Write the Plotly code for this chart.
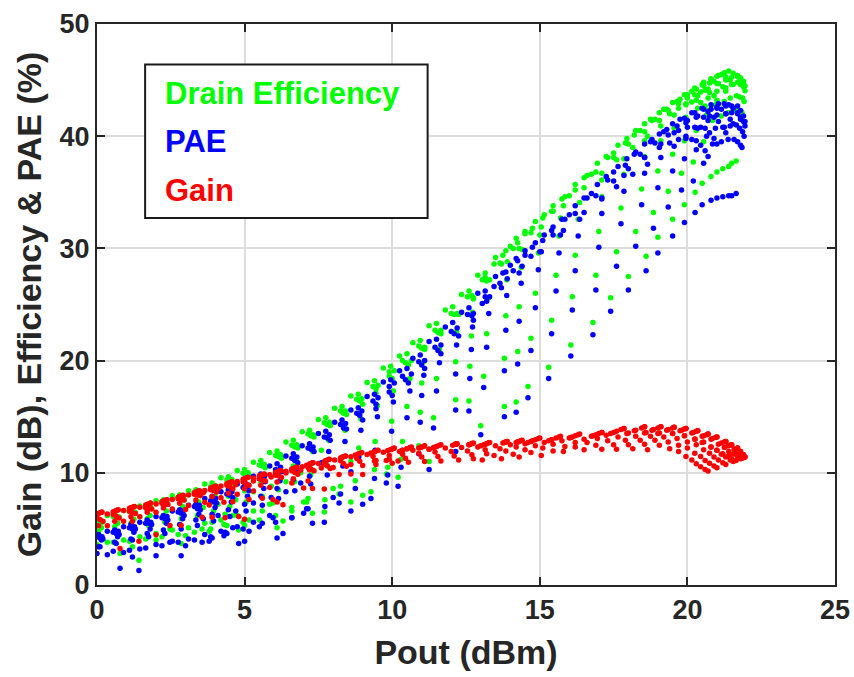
import plotly.graph_objects as go

# Load-pull style sweep: each inner list is one input-power step,
# points ordered along the swept bias/load parameter.
pout_arcs = [
    [20.7, 21.0, 21.3, 21.55, 21.8, 21.95, 21.95, 21.92, 21.85, 21.65],
    [20.6, 20.9, 21.2, 21.45, 21.7, 21.9, 21.9, 21.87, 21.8, 21.5],
    [20.45, 20.75, 21.05, 21.3, 21.55, 21.8, 21.8, 21.77, 21.7, 21.4],
    [20.3, 20.6, 20.9, 21.15, 21.4, 21.7, 21.7, 21.66, 21.58, 21.2],
    [20.15, 20.45, 20.75, 21.0, 21.25, 21.5, 21.5, 21.45, 21.38, 21.0],
    [19.95, 20.25, 20.55, 20.8, 21.05, 21.3, 21.3, 21.25, 21.15, 20.8],
    [19.7, 20.0, 20.3, 20.55, 20.8, 21.0, 21.0, 20.95, 20.85, 20.5],
    [19.4, 19.7, 20.0, 20.25, 20.5, 20.7, 20.7, 20.65, 20.55, 20.26],
    [18.65, 19.05, 19.35, 19.65, 19.9, 20.15, 20.35, 20.35, 20.3, 20.2, 19.9],
    [18.15, 18.55, 18.9, 19.2, 19.5, 19.75, 19.95, 19.95, 19.9, 19.8, 19.5],
    [17.6, 18.0, 18.4, 18.75, 19.05, 19.3, 19.55, 19.55, 19.5, 19.35, 19.0],
    [17.1, 17.5, 17.9, 18.25, 18.55, 18.8, 19.1, 19.1, 19.0, 18.85, 18.6],
    [16.5, 16.9, 17.3, 17.65, 17.95, 18.2, 18.55, 18.55, 18.45, 18.25, 18.0],
    [15.8, 16.2, 16.6, 16.95, 17.25, 17.5, 17.85, 17.85, 17.75, 17.6, 17.4],
    [15.05, 15.45, 15.85, 16.2, 16.5, 16.75, 17.1, 17.1, 17.0, 16.9, 16.8],
    [14.3, 14.7, 15.1, 15.45, 15.75, 16.0, 16.35, 16.3, 16.2, 16.1, 16.05],
    [13.7, 14.1, 14.5, 14.85, 15.15, 15.4, 15.7, 15.65, 15.55, 15.4, 15.3],
    [13.05, 13.45, 13.85, 14.2, 14.5, 14.75, 15.0, 14.95, 14.85, 14.7, 14.6],
    [12.75, 13.2, 13.65, 14.0, 14.25, 14.4, 14.37, 14.3, 14.25, 14.2],
    [12.25, 12.7, 13.15, 13.5, 13.75, 13.9, 13.88, 13.85, 13.8, 13.8],
    [11.65, 12.1, 12.55, 12.9, 13.15, 13.3, 13.27, 13.2, 13.1, 13.0],
    [11.1, 11.55, 12.0, 12.35, 12.6, 12.75, 12.72, 12.68, 12.63, 12.6],
    [10.55, 11.0, 11.45, 11.8, 12.05, 12.2, 12.18, 12.15, 12.15, 12.15],
    [10.0, 10.45, 10.9, 11.25, 11.5, 11.65, 11.6, 11.5, 11.4, 11.25, 10.2, 9.0, 7.7, 6.3, 5.0],
    [9.45, 9.9, 10.35, 10.7, 10.95, 11.1, 11.07, 11.0, 10.95, 10.9, 9.8, 8.6, 7.3, 6.1, 4.8],
    [9.0, 9.45, 9.9, 10.25, 10.5, 10.65, 10.6, 10.5, 10.35, 10.3, 9.4, 8.2, 7.0, 5.96, 4.34],
    [8.45, 8.9, 9.35, 9.7, 9.95, 10.07, 10.04, 9.98, 9.85, 8.6, 7.15, 5.6, 3.9],
    [7.9, 8.35, 8.8, 9.15, 9.4, 9.52, 9.5, 9.42, 9.28, 8.0, 6.6, 5.15, 3.56, 2.85, 2.0, 1.42, 0.78],
    [7.35, 7.8, 8.25, 8.6, 8.85, 8.97, 8.94, 8.87, 8.75, 7.6, 6.65, 5.85, 4.6, 2.47],
    [6.8, 7.25, 7.7, 8.05, 8.3, 8.42, 8.4, 8.33, 8.25, 7.2, 6.1, 5.3, 4.3],
    [6.25, 6.7, 7.15, 7.5, 7.75, 7.87, 7.85, 7.8, 7.72, 6.9, 5.55, 4.75, 3.8],
    [5.7, 6.15, 6.6, 6.95, 7.2, 7.32, 7.3, 7.24, 7.1, 6.4, 5.0, 4.2],
    [5.15, 5.6, 6.05, 6.4, 6.65, 6.77, 6.75, 6.7, 6.6, 5.9, 4.45, 3.65, 3.0],
    [4.6, 5.05, 5.5, 5.85, 6.1, 6.22, 6.2, 6.15, 6.05, 5.3, 3.9, 3.1],
    [4.05, 4.5, 4.95, 5.3, 5.55, 5.67, 5.65, 5.6, 5.5, 4.7, 3.35, 2.55],
    [3.5, 3.95, 4.4, 4.75, 5.0, 5.12, 5.1, 5.05, 4.95, 4.1, 2.8, 2.0, 1.2],
    [2.95, 3.4, 3.85, 4.2, 4.45, 4.57, 4.55, 4.5, 4.4, 3.6, 2.25, 1.45],
    [2.4, 2.85, 3.3, 3.65, 3.9, 4.02, 4.0, 3.95, 3.85, 1.7, 0.9],
    [1.85, 2.3, 2.75, 3.1, 3.35, 3.47, 3.45, 3.4, 3.3, 1.15, 0.35],
    [1.3, 1.75, 2.2, 2.55, 2.8, 2.92, 2.9, 2.85, 2.75, 0.6, -0.2],
    [0.75, 1.2, 1.65, 2.0, 2.25, 2.37, 2.35, 2.3, 2.2, 0.05, -0.75],
    [0.2, 0.65, 1.1, 1.45, 1.7, 1.82, 1.8, 1.75, 1.65],
    [-0.35, 0.1, 0.55, 0.9, 1.15, 1.27, 1.25, 1.2, 1.1],
    [-0.9, -0.45, 0.0, 0.35, 0.6, 0.72, 0.7, 0.65, 0.55],
    [-1.45, -1.0, -0.55, -0.2, 0.05, 0.17, 0.15, 0.1, 0.0],
]

drain_eff_arcs = [
    [42.3, 43.2, 44.0, 44.6, 44.9, 44.5, 44.05, 43.1, 42.1, 37.8],
    [42.7, 43.6, 44.4, 45.0, 45.3, 44.9, 44.4, 43.4, 42.2, 37.6],
    [43.0, 43.9, 44.7, 45.3, 45.6, 45.2, 44.6, 43.5, 42.3, 37.3],
    [43.2, 44.1, 44.9, 45.5, 45.8, 45.4, 44.8, 43.6, 42.3, 37.1],
    [43.05, 43.95, 44.75, 45.35, 45.65, 45.25, 44.6, 43.4, 42.1, 36.8],
    [42.8, 43.7, 44.5, 45.1, 45.4, 45.0, 44.3, 43.1, 41.8, 36.4],
    [42.5, 43.4, 44.2, 44.8, 45.1, 44.7, 44.0, 42.8, 41.4, 35.8],
    [42.0, 42.9, 43.7, 44.3, 44.6, 44.2, 43.4, 41.9, 39.5, 35.0],
    [40.0, 41.4, 42.3, 43.1, 43.7, 44.0, 43.6, 42.5, 40.5, 37.7, 33.9],
    [39.0, 40.4, 41.5, 42.4, 43.0, 43.3, 42.9, 41.7, 39.6, 36.7, 32.6],
    [37.9, 39.3, 40.5, 41.5, 42.1, 42.4, 41.9, 40.7, 38.4, 35.1, 31.0],
    [36.7, 38.1, 39.4, 40.5, 41.1, 41.4, 40.9, 39.6, 36.9, 33.2, 29.3],
    [35.4, 36.8, 38.1, 39.2, 39.8, 40.1, 39.6, 38.2, 35.3, 31.5, 27.5],
    [33.8, 35.2, 36.5, 37.6, 38.2, 38.5, 38.0, 36.6, 33.6, 29.7, 25.6],
    [31.9, 33.3, 34.6, 35.7, 36.3, 36.6, 36.1, 34.6, 31.5, 27.6, 23.4],
    [30.0, 31.4, 32.7, 33.8, 34.4, 34.7, 34.1, 32.6, 29.4, 25.7, 21.4],
    [28.6, 30.0, 31.3, 32.4, 33.0, 33.3, 32.7, 31.1, 27.6, 23.6, 19.4],
    [27.2, 28.6, 29.8, 30.9, 31.5, 31.8, 31.2, 29.6, 26.0, 22.0, 17.7],
    [25.5, 27.1, 28.7, 30.2, 30.5, 29.9, 28.3, 24.8, 20.8, 16.3],
    [24.1, 25.8, 27.4, 29.2, 29.4, 28.8, 27.2, 24.0, 20.2, 15.9],
    [22.4, 24.1, 25.7, 27.6, 27.8, 27.2, 25.6, 22.4, 18.6, 14.2],
    [21.0, 22.5, 24.2, 25.9, 26.2, 25.6, 24.3, 22.2, 19.5, 16.4],
    [19.6, 21.1, 22.7, 24.5, 24.8, 24.2, 22.6, 19.9, 16.5, 12.6],
    [18.4, 19.8, 21.3, 23.1, 23.3, 22.7, 21.0, 18.4, 14.9, 11.0, 9.6, 8.0, 6.5, 5.7, 5.3],
    [17.1, 18.6, 20.0, 21.6, 21.8, 21.2, 19.9, 18.0, 15.4, 12.4, 9.9, 7.4, 6.4, 5.1, 4.9],
    [16.1, 17.5, 19.0, 20.4, 20.6, 20.0, 18.4, 15.9, 12.8, 11.2, 10.3, 8.1, 7.4, 7.3, 6.3],
    [15.2, 16.4, 17.7, 19.35, 19.5, 19.1, 17.3, 14.6, 10.5, 11.0, 7.7, 6.6, 5.6],
    [14.2, 15.3, 16.55, 18.05, 18.2, 17.8, 16.0, 12.8, 8.3, 8.6, 6.9, 5.8, 5.0, 3.7, 4.0, 2.2, 2.8],
    [13.2, 14.3, 15.5, 16.85, 17.0, 16.6, 14.8, 12.2, 9.3, 12.0, 10.6, 7.2, 6.2, 5.0],
    [12.2, 13.3, 14.45, 15.75, 15.9, 15.5, 13.8, 11.4, 8.8, 10.7, 9.8, 6.6, 5.4],
    [11.3, 12.3, 13.45, 14.75, 14.9, 14.5, 12.9, 10.6, 7.6, 10.0, 9.1, 6.2, 4.8],
    [10.45, 11.45, 12.45, 13.65, 13.8, 13.4, 11.9, 9.8, 7.4, 9.2, 8.4, 5.8],
    [9.7, 10.6, 11.55, 12.75, 12.9, 12.5, 11.1, 9.2, 6.6, 8.8, 7.9, 5.5, 4.4],
    [9.05, 9.85, 10.7, 11.8, 11.95, 11.6, 10.3, 8.5, 6.2, 8.3, 7.5, 5.1],
    [8.55, 9.25, 9.95, 10.95, 11.1, 10.75, 9.6, 7.9, 5.8, 7.6, 7.0, 4.9],
    [7.95, 8.7, 9.35, 10.2, 10.3, 10.0, 8.9, 7.4, 5.6, 7.2, 6.6, 4.6, 3.4],
    [7.55, 8.1, 8.75, 9.55, 9.65, 9.4, 8.4, 7.0, 5.3, 6.9, 6.2, 4.3],
    [7.2, 7.7, 8.25, 9.0, 9.1, 8.85, 7.9, 6.6, 5.0, 5.9, 4.0],
    [6.8, 7.3, 7.8, 8.4, 8.5, 8.25, 7.4, 6.2, 4.7, 5.5, 3.8],
    [6.45, 6.9, 7.4, 7.95, 8.05, 7.8, 7.0, 5.9, 4.5, 5.2, 3.5],
    [6.05, 6.5, 6.95, 7.5, 7.6, 7.35, 6.6, 5.6, 4.3, 4.8, 3.3],
    [5.65, 6.1, 6.55, 7.05, 7.15, 6.9, 6.2, 5.3, 4.1],
    [5.3, 5.7, 6.1, 6.65, 6.75, 6.5, 5.85, 5.0, 3.9],
    [4.9, 5.3, 5.7, 6.2, 6.3, 6.05, 5.5, 4.7, 3.8],
    [4.5, 4.9, 5.3, 5.75, 5.85, 5.6, 5.1, 4.4, 3.6],
]

pae_arcs = [
    [38.2, 39.3, 40.3, 41.1, 41.5, 41.3, 40.9, 40.0, 39.0, 34.9],
    [38.7, 39.8, 40.8, 41.5, 42.0, 41.8, 41.3, 40.4, 39.2, 34.7],
    [39.2, 40.3, 41.3, 42.0, 42.5, 42.3, 41.7, 40.7, 39.5, 34.7],
    [39.6, 40.7, 41.7, 42.4, 42.8, 42.7, 42.1, 41.0, 39.7, 34.6],
    [39.7, 40.8, 41.8, 42.5, 42.9, 42.7, 42.1, 40.9, 39.7, 34.5],
    [39.8, 40.8, 41.7, 42.4, 42.9, 42.7, 42.0, 40.8, 39.5, 34.3],
    [39.7, 40.8, 41.7, 42.4, 42.8, 42.6, 41.9, 40.7, 39.3, 33.9],
    [39.4, 40.5, 41.4, 42.1, 42.5, 42.2, 41.4, 40.0, 37.6, 33.2],
    [37.5, 39.0, 40.1, 40.9, 41.6, 42.1, 41.8, 40.7, 38.8, 36.0, 32.3],
    [36.6, 38.1, 39.4, 40.4, 41.1, 41.5, 41.2, 40.0, 38.0, 35.2, 31.1],
    [35.5, 37.1, 38.4, 39.5, 40.2, 40.6, 40.3, 39.1, 36.9, 33.7, 29.6],
    [34.4, 36.0, 37.4, 38.6, 39.3, 39.7, 39.3, 38.1, 35.4, 31.8, 28.0],
    [33.2, 34.7, 36.1, 37.3, 38.0, 38.4, 38.1, 36.7, 33.9, 30.2, 26.3],
    [31.6, 33.1, 34.5, 35.7, 36.4, 36.8, 36.5, 35.1, 32.2, 28.4, 24.4],
    [29.7, 31.2, 32.6, 33.8, 34.5, 34.9, 34.5, 33.1, 30.1, 26.3, 22.3],
    [27.8, 29.3, 30.7, 31.9, 32.6, 33.0, 32.6, 31.1, 28.0, 24.5, 20.4],
    [26.5, 28.0, 29.4, 30.5, 31.2, 31.6, 31.2, 29.6, 26.2, 22.4, 18.4],
    [25.1, 26.6, 27.9, 29.1, 29.8, 30.1, 29.7, 28.1, 24.7, 20.9, 16.7],
    [23.6, 25.3, 26.9, 28.5, 28.9, 28.4, 26.9, 23.5, 19.7, 15.4],
    [22.2, 24.0, 25.7, 27.5, 27.8, 27.3, 25.8, 22.7, 19.1, 15.0],
    [20.6, 22.4, 24.1, 26.0, 26.2, 25.7, 24.2, 21.2, 17.6, 13.4],
    [19.3, 20.9, 22.6, 24.3, 24.7, 24.2, 23.0, 21.0, 18.4, 15.5],
    [18.0, 19.6, 21.2, 23.0, 23.4, 22.9, 21.4, 18.8, 15.6, 11.9],
    [16.9, 18.3, 19.9, 21.7, 21.9, 21.4, 19.8, 17.3, 14.0, 10.3, 8.8, 7.2, 5.6, 4.6, 3.9],
    [15.7, 17.2, 18.6, 20.2, 20.5, 20.0, 18.7, 16.9, 14.5, 11.7, 9.1, 6.6, 5.5, 4.2, 3.7],
    [14.7, 16.1, 17.7, 19.1, 19.3, 18.8, 17.3, 14.9, 12.0, 10.5, 9.5, 7.3, 6.4, 6.0, 4.7],
    [13.9, 15.1, 16.4, 18.1, 18.3, 18.0, 16.3, 13.7, 9.8, 10.1, 6.8, 5.5, 4.2],
    [12.9, 14.0, 15.3, 16.8, 17.0, 16.7, 15.0, 12.0, 7.7, 7.8, 6.0, 4.8, 3.8, 2.6, 2.6, 1.3, 1.5],
    [11.9, 13.1, 14.3, 15.6, 15.8, 15.5, 13.8, 11.4, 8.6, 10.9, 9.4, 6.2, 5.1, 3.8],
    [10.9, 12.1, 13.2, 14.5, 14.7, 14.4, 12.8, 10.6, 8.1, 9.7, 8.6, 5.6, 4.4],
    [10.1, 11.1, 12.2, 13.5, 13.7, 13.4, 11.9, 9.8, 7.0, 9.1, 7.9, 5.2, 3.9],
    [9.2, 10.2, 11.3, 12.4, 12.6, 12.3, 10.9, 9.0, 6.8, 8.3, 7.2, 4.8],
    [8.4, 9.4, 10.3, 11.5, 11.7, 11.4, 10.1, 8.4, 6.0, 7.8, 6.7, 4.5, 3.5],
    [7.8, 8.6, 9.5, 10.6, 10.8, 10.5, 9.3, 7.7, 5.6, 7.3, 6.3, 4.1],
    [7.3, 8.0, 8.7, 9.7, 9.9, 9.7, 8.6, 7.1, 5.2, 6.6, 5.8, 3.9],
    [6.7, 7.4, 8.1, 9.0, 9.1, 8.9, 7.9, 6.6, 5.0, 6.2, 5.4, 3.6, 2.5],
    [6.2, 6.8, 7.5, 8.3, 8.5, 8.3, 7.4, 6.1, 4.6, 5.9, 4.9, 3.2],
    [5.8, 6.4, 7.0, 7.7, 7.9, 7.7, 6.9, 5.7, 4.3, 4.6, 2.9],
    [5.4, 5.9, 6.5, 7.1, 7.2, 7.1, 6.3, 5.3, 4.0, 4.1, 2.7],
    [5.0, 5.5, 6.0, 6.6, 6.7, 6.6, 5.9, 5.0, 3.8, 3.8, 2.4],
    [4.5, 5.0, 5.5, 6.1, 6.2, 6.1, 5.5, 4.6, 3.5, 3.4, 2.1],
    [4.1, 4.6, 5.1, 5.6, 5.8, 5.6, 5.0, 4.3, 3.3],
    [3.8, 4.2, 4.7, 5.2, 5.4, 5.2, 4.7, 4.0, 3.1],
    [3.4, 3.8, 4.3, 4.8, 4.9, 4.8, 4.3, 3.7, 3.0],
    [3.0, 3.5, 3.9, 4.3, 4.5, 4.3, 4.0, 3.4, 2.8],
]

gain_arcs = [
    [10.15, 10.45, 10.75, 11.0, 11.25, 11.4, 11.4, 11.37, 11.3, 11.1],
    [10.3, 10.6, 10.9, 11.15, 11.4, 11.6, 11.6, 11.57, 11.5, 11.2],
    [10.55, 10.85, 11.15, 11.4, 11.65, 11.9, 11.9, 11.87, 11.8, 11.5],
    [10.8, 11.1, 11.4, 11.65, 11.9, 12.2, 12.2, 12.16, 12.08, 11.7],
    [11.15, 11.45, 11.75, 12.0, 12.25, 12.5, 12.5, 12.45, 12.38, 12.0],
    [11.45, 11.75, 12.05, 12.3, 12.55, 12.8, 12.8, 12.75, 12.65, 12.3],
    [11.9, 12.2, 12.5, 12.75, 13.0, 13.2, 13.2, 13.15, 13.05, 12.7],
    [12.15, 12.45, 12.75, 13.0, 13.25, 13.45, 13.45, 13.4, 13.3, 13.01],
    [12.05, 12.45, 12.75, 13.05, 13.3, 13.55, 13.75, 13.75, 13.7, 13.6, 13.3],
    [12.15, 12.55, 12.9, 13.2, 13.5, 13.75, 13.95, 13.95, 13.9, 13.8, 13.5],
    [12.1, 12.5, 12.9, 13.25, 13.55, 13.8, 14.05, 14.05, 14.0, 13.85, 13.5],
    [12.1, 12.5, 12.9, 13.25, 13.55, 13.8, 14.1, 14.1, 14.0, 13.85, 13.6],
    [12.05, 12.45, 12.85, 13.2, 13.5, 13.75, 14.1, 14.1, 14.0, 13.8, 13.55],
    [11.9, 12.3, 12.7, 13.05, 13.35, 13.6, 13.95, 13.95, 13.85, 13.7, 13.5],
    [11.55, 11.95, 12.35, 12.7, 13.0, 13.25, 13.6, 13.6, 13.5, 13.4, 13.3],
    [11.4, 11.8, 12.2, 12.55, 12.85, 13.1, 13.45, 13.4, 13.3, 13.2, 13.15],
    [11.25, 11.65, 12.05, 12.4, 12.7, 12.95, 13.25, 13.2, 13.1, 12.95, 12.85],
    [11.15, 11.55, 11.95, 12.3, 12.6, 12.85, 13.1, 13.05, 12.95, 12.8, 12.7],
    [11.25, 11.7, 12.15, 12.5, 12.75, 12.9, 12.87, 12.8, 12.75, 12.7],
    [11.15, 11.6, 12.05, 12.4, 12.65, 12.8, 12.78, 12.75, 12.7, 12.7],
    [11.05, 11.5, 11.95, 12.3, 12.55, 12.7, 12.67, 12.6, 12.5, 12.4],
    [11.0, 11.45, 11.9, 12.25, 12.5, 12.65, 12.62, 12.58, 12.53, 12.5],
    [10.95, 11.4, 11.85, 12.2, 12.45, 12.6, 12.58, 12.55, 12.55, 12.55],
    [10.85, 11.3, 11.75, 12.1, 12.35, 12.5, 12.45, 12.35, 12.25, 12.1, 11.05, 9.85, 8.55, 7.15, 5.85],
    [10.75, 11.2, 11.65, 12.0, 12.25, 12.4, 12.37, 12.3, 12.25, 12.2, 11.1, 9.9, 8.6, 7.4, 6.1],
    [10.65, 11.1, 11.55, 11.9, 12.15, 12.3, 12.25, 12.15, 12.0, 11.95, 11.05, 9.85, 8.65, 7.61, 5.99],
    [10.58, 11.03, 11.48, 11.83, 12.08, 12.2, 12.17, 12.11, 11.98, 10.73, 9.28, 7.73, 6.03],
    [10.38, 10.83, 11.28, 11.63, 11.88, 12.0, 11.98, 11.9, 11.76, 10.48, 9.08, 7.63, 6.04, 5.33, 4.48, 3.9, 3.26],
    [10.18, 10.63, 11.08, 11.43, 11.68, 11.8, 11.77, 11.7, 11.58, 10.43, 9.48, 8.68, 7.43, 5.3],
    [9.88, 10.33, 10.78, 11.13, 11.38, 11.5, 11.48, 11.41, 11.33, 10.28, 9.18, 8.38, 7.38],
    [9.58, 10.03, 10.48, 10.83, 11.08, 11.2, 11.18, 11.13, 11.05, 10.23, 8.88, 8.08, 7.13],
    [9.28, 9.73, 10.18, 10.53, 10.78, 10.9, 10.88, 10.82, 10.68, 9.98, 8.58, 7.78],
    [8.88, 9.33, 9.78, 10.13, 10.38, 10.5, 10.48, 10.43, 10.33, 9.63, 8.18, 7.38, 6.73],
    [8.58, 9.03, 9.48, 9.83, 10.08, 10.2, 10.18, 10.13, 10.03, 9.28, 7.88, 7.08],
    [8.28, 8.73, 9.18, 9.53, 9.78, 9.9, 9.88, 9.83, 9.73, 8.93, 7.58, 6.78],
    [7.98, 8.43, 8.88, 9.23, 9.48, 9.6, 9.58, 9.53, 9.43, 8.58, 7.28, 6.48, 5.68],
    [7.58, 8.03, 8.48, 8.83, 9.08, 9.2, 9.18, 9.13, 9.03, 8.23, 6.88, 6.08],
    [7.18, 7.63, 8.08, 8.43, 8.68, 8.8, 8.78, 8.73, 8.63, 6.48, 5.68],
    [6.78, 7.23, 7.68, 8.03, 8.28, 8.4, 8.38, 8.33, 8.23, 6.08, 5.28],
    [6.38, 6.83, 7.28, 7.63, 7.88, 8.0, 7.98, 7.93, 7.83, 5.68, 4.88],
    [5.98, 6.43, 6.88, 7.23, 7.48, 7.6, 7.58, 7.53, 7.43, 5.28, 4.48],
    [5.68, 6.13, 6.58, 6.93, 7.18, 7.3, 7.28, 7.23, 7.13],
    [5.38, 5.83, 6.28, 6.63, 6.88, 7.0, 6.98, 6.93, 6.83],
    [5.08, 5.53, 5.98, 6.33, 6.58, 6.7, 6.68, 6.63, 6.53],
    [4.88, 5.33, 5.78, 6.13, 6.38, 6.5, 6.48, 6.43, 6.33],
]

x_ticks = [0, 5, 10, 15, 20, 25]
y_ticks = [0, 10, 20, 30, 40, 50]
legend_labels = ["Drain Efficiency", "PAE", "Gain"]

GREEN, BLUE, RED = "#00ff00", "#0000ff", "#ff0000"
AXIS_COLOR = "#262626"
FONT = "Liberation Sans, Arial, Helvetica, sans-serif"

for name, arcs in (("drain_eff", drain_eff_arcs), ("pae", pae_arcs), ("gain", gain_arcs)):
    assert len(arcs) == len(pout_arcs), name
    for i, (xs, ys) in enumerate(zip(pout_arcs, arcs)):
        assert len(xs) == len(ys), (name, i, len(xs), len(ys))


def flatten(arcs):
    return [v for arc in arcs for v in arc]


pout = flatten(pout_arcs)

fig = go.Figure()
for values, color, label in (
    (flatten(drain_eff_arcs), GREEN, legend_labels[0]),
    (flatten(pae_arcs), BLUE, legend_labels[1]),
    (flatten(gain_arcs), RED, legend_labels[2]),
):
    fig.add_trace(go.Scatter(
        x=pout, y=values, mode="markers", name=label, showlegend=False,
        marker=dict(size=5.5, color=color, line=dict(width=0)),
        hoverinfo="skip",
    ))

axis_common = dict(
    showline=True, linecolor=AXIS_COLOR, linewidth=2, mirror="ticks",
    ticks="inside", ticklen=8, tickwidth=2, tickcolor=AXIS_COLOR,
    showgrid=True, gridcolor="#dddddd", gridwidth=2, zeroline=False,
    tickfont=dict(family=FONT, size=27, color=AXIS_COLOR, weight="bold"),
)

fig.update_xaxes(
    range=[0, 25], tickvals=x_ticks, ticktext=[str(v) for v in x_ticks],
    title=dict(text="Pout (dBm)", standoff=16,
               font=dict(family=FONT, size=34, color=AXIS_COLOR, weight="bold")),
    **axis_common,
)
fig.update_yaxes(
    range=[0, 50], tickvals=y_ticks, ticktext=[str(v) for v in y_ticks],
    title=dict(text="Gain (dB), Efficiency & PAE (%)", standoff=8,
               font=dict(family=FONT, size=34, color=AXIS_COLOR, weight="bold")),
    **axis_common,
)

# Text-only legend box in the upper left of the axes
fig.add_shape(type="rect", xref="x", yref="y", x0=1.63, x1=11.2, y0=32.7, y1=46.4,
              line=dict(color="#1a1a1a", width=2), fillcolor="white", layer="above")
for label, color, y in zip(legend_labels, (GREEN, BLUE, RED), (43.85, 39.5, 35.2)):
    fig.add_annotation(x=2.25, y=y, xref="x", yref="y", text=label, showarrow=False,
                       xanchor="left", yanchor="middle",
                       font=dict(family=FONT, size=31, color=color, weight="bold"))

fig.update_layout(
    width=854, height=677,
    margin=dict(l=97, r=19, t=24, b=92, autoexpand=False),
    paper_bgcolor="white", plot_bgcolor="white",
)

fig.write_html("out.html")
